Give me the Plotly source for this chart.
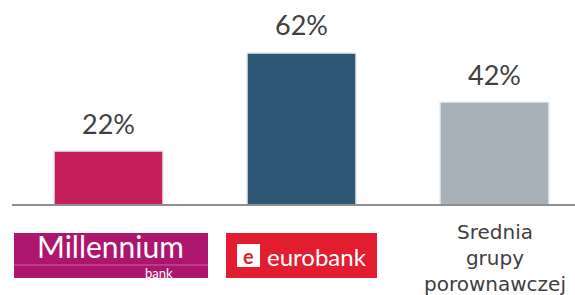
import plotly.graph_objects as go

categories = ["Millennium bank", "eurobank", "Srednia grupy porownawczej"]
values = [22, 62, 42]
value_labels = ["22%", "62%", "42%"]
bar_colors = ["#c41f5a", "#2e5675", "#a9b1b8"]
third_label_lines = ["Srednia", "grupy", "porownawczej"]

W, H = 575, 295
PX = 2.452  # pixels per percentage point
BASE = 205  # baseline pixel row

def px_x(x):
    return x / W

def px_y(y):
    return (H - y) / H

fig = go.Figure()
fig.add_trace(go.Bar(
    x=categories, y=values,
    marker=dict(color=bar_colors, line=dict(color="#e6edf2", width=1.5)),
    width=0.565, hoverinfo="skip",
))

font_main = "Lato, 'Noto Sans', sans-serif"

for c, v, t in zip(categories, values, value_labels):
    fig.add_annotation(x=c, y=v, text=t, showarrow=False, xref="x", yref="y",
                       yanchor="middle", yshift=28,
                       font=dict(family=font_main, size=27, color="#404040"))

# baseline
fig.add_shape(type="line", xref="paper", yref="y", x0=px_x(12), x1=1, y0=0, y1=0,
              line=dict(color="#8e8e8e", width=2))

# Millennium logo
fig.add_shape(type="rect", xref="paper", yref="paper", x0=px_x(14), x1=px_x(208),
              y0=px_y(278), y1=px_y(233), fillcolor="#ad156e", line=dict(width=0))
fig.add_shape(type="line", xref="paper", yref="paper", x0=px_x(14), x1=px_x(208),
              y0=px_y(265), y1=px_y(265), line=dict(color="rgba(255,255,255,0.35)", width=1))
fig.add_annotation(x=px_x(110), y=px_y(246), xref="paper", yref="paper", text="Millennium",
                   showarrow=False, xanchor="center", yanchor="middle",
                   font=dict(family=font_main, size=30, color="white"))
fig.add_annotation(x=px_x(159), y=px_y(273), xref="paper", yref="paper", text="bank",
                   showarrow=False, xanchor="center", yanchor="middle",
                   font=dict(family=font_main, size=13, color="white"))

# eurobank logo
fig.add_shape(type="rect", xref="paper", yref="paper", x0=px_x(226), x1=px_x(377),
              y0=px_y(278), y1=px_y(233), fillcolor="#e21d30", line=dict(width=0))
fig.add_shape(type="rect", xref="paper", yref="paper", x0=px_x(237), x1=px_x(260),
              y0=px_y(267), y1=px_y(244), fillcolor="white", line=dict(width=0))
fig.add_annotation(x=px_x(248.5), y=px_y(256), xref="paper", yref="paper", text="<b>e</b>",
                   showarrow=False, xanchor="center", yanchor="middle",
                   font=dict(family=font_main, size=20, color="#e21d30"))
fig.add_annotation(x=px_x(317), y=px_y(256), xref="paper", yref="paper", text="eurobank",
                   showarrow=False, xanchor="center", yanchor="middle",
                   font=dict(family=font_main, size=24, color="white"))

# third category label
fig.add_annotation(x=categories[2], y=0, xref="x", yref="y",
                   text="<br>".join(third_label_lines),
                   showarrow=False, xanchor="center", yanchor="top", yshift=-13,
                   font=dict(family="'DejaVu Sans', sans-serif", size=20, color="#404040"))

fig.update_layout(
    width=W, height=H, margin=dict(l=0, r=0, t=0, b=0),
    paper_bgcolor="white", plot_bgcolor="white", showlegend=False,
    xaxis=dict(range=[-108.5 / 193, (W - 108.5) / 193], visible=False),
    yaxis=dict(range=[-(H - BASE) / PX, BASE / PX], visible=False),
)

fig.write_html("out.html", config={"displayModeBar": False},
               post_script="document.body.style.margin='0px';")
